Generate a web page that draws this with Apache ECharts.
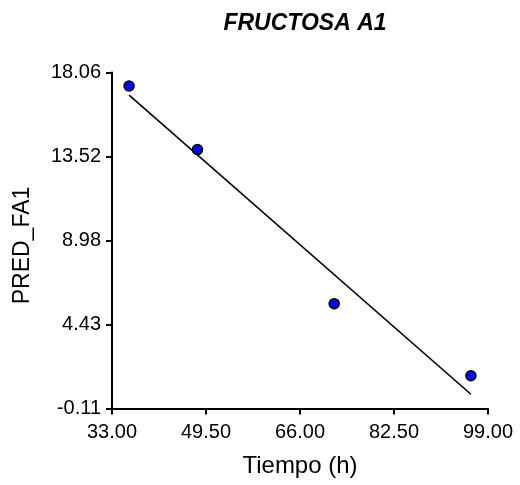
<!DOCTYPE html>
<html>
<head>
<meta charset="utf-8">
<script src="https://cdn.jsdelivr.net/npm/echarts@6/dist/echarts.min.js"></script>
<style>
  html, body { margin: 0; padding: 0; background: #fff; }
  #chart { width: 520px; height: 485px; }
</style>
</head>
<body>
<div id="chart"></div>
<script>
// Observed points (Tiempo h, PRED_FA1)
const tiempo = [36, 48, 72, 96];
const predFA1 = [17.33, 13.89, 5.56, 1.66];
// Fitted line endpoints
const fitX = [36, 96];
const fitY = [16.84, 0.66];
// Axis ticks
const xTicks = [33.00, 49.50, 66.00, 82.50, 99.00];
const yTicks = [-0.11, 4.43, 8.98, 13.52, 18.06];

const chart = echarts.init(document.getElementById('chart'), null, { renderer: 'canvas' });
const font = 'Arial, "Liberation Sans", sans-serif';
const axisLineStyle = { color: '#000', width: 2 };

chart.setOption({
  animation: false,
  backgroundColor: '#fff',
  title: {
    text: 'FRUCTOSA A1',
    left: 300,
    top: 7,
    textAlign: 'center',
    textStyle: { fontFamily: font, fontSize: 23, fontWeight: 'bold', fontStyle: 'italic', color: '#000' }
  },
  grid: { left: 112, right: 32, top: 72.5, bottom: 76.5, containLabel: false },
  xAxis: {
    type: 'value',
    min: xTicks[0],
    max: xTicks[xTicks.length - 1],
    interval: 16.5,
    name: 'Tiempo (h)',
    nameLocation: 'middle',
    nameGap: 46,
    nameTextStyle: { fontFamily: font, fontSize: 24, color: '#000' },
    axisLine: { show: true, onZero: false, lineStyle: axisLineStyle },
    axisTick: { show: true, inside: false, length: 6, lineStyle: axisLineStyle, customValues: xTicks },
    axisLabel: { fontFamily: font, fontSize: 20, color: '#000', margin: 14, customValues: xTicks,
      formatter: v => v.toFixed(2) },
    splitLine: { show: false }
  },
  yAxis: {
    type: 'value',
    min: yTicks[0],
    max: yTicks[yTicks.length - 1],
    name: 'PRED_FA1',
    nameLocation: 'middle',
    nameGap: 78,
    nameTextStyle: { fontFamily: font, fontSize: 23, color: '#000', padding: [0, 10, 0, 0] },
    axisLine: { show: true, onZero: false, lineStyle: axisLineStyle },
    axisTick: { show: true, inside: false, length: 6, lineStyle: axisLineStyle, customValues: yTicks },
    axisLabel: { fontFamily: font, fontSize: 20, color: '#000', margin: 11, customValues: yTicks,
      formatter: v => v.toFixed(2) },
    splitLine: { show: false }
  },
  series: [
    {
      type: 'line',
      data: fitX.map((x, i) => [x, fitY[i]]),
      showSymbol: false,
      symbol: 'none',
      lineStyle: { color: '#000', width: 1.6 },
      z: 2
    },
    {
      type: 'scatter',
      data: tiempo.map((x, i) => [x, predFA1[i]]),
      symbol: 'circle',
      symbolSize: 10,
      itemStyle: { color: '#0000ff', borderColor: '#000', borderWidth: 1.5, opacity: 1 },
      z: 3
    }
  ]
});
</script>
</body>
</html>
